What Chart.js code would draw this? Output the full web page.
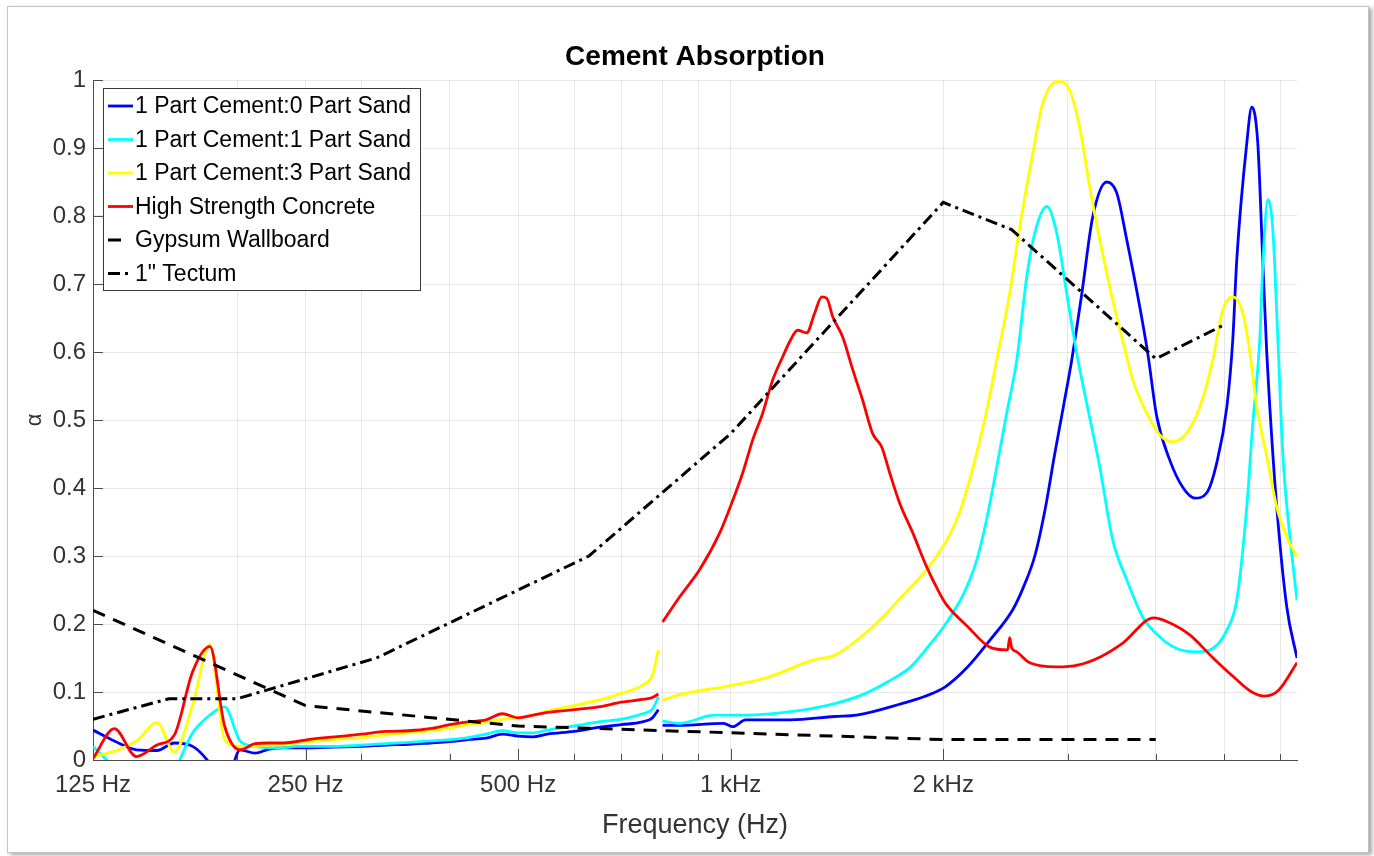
<!DOCTYPE html>
<html>
<head>
<meta charset="utf-8">
<script src="https://cdn.jsdelivr.net/npm/chart.js@4.4.1/dist/chart.umd.min.js"></script>
<style>
  html, body { margin: 0; padding: 0; background: #fff; }
  #fig { position: relative; width: 1374px; height: 856px; overflow: hidden; background: #fff; }
  #frame { position: absolute; left: 7px; top: 6px; width: 1360px; height: 845px;
           border: 1px solid #c4c4c4; box-shadow: 3px 2px 4px rgba(0,0,0,0.35); background: #fff; }
  #c { position: absolute; left: 0; top: 0; }
</style>
</head>
<body>
<div id="fig"><div id="frame"></div><canvas id="c" width="1374" height="856"></canvas></div>
<script>
// ---- Low-frequency measurement range (shared frequency grid, Hz) ----
const lowFreq = [125,134,144,154,163,173,183,192,202,212,222,232,242,252,275,300,325,350,375,400,425,450,475,500,525,550,600,650,700,750,775,790];
const blueLow   = [0.044,0.028,0.015,0.014,0.025,0.020,-0.005,-0.040,0.015,0.010,0.016,0.018,0.018,0.018,0.019,0.020,0.022,0.023,0.025,0.027,0.030,0.032,0.038,0.035,0.034,0.038,0.042,0.048,0.052,0.056,0.062,0.074];
const cyanLow   = [0.020,-0.010,-0.030,-0.040,-0.015,0.040,0.066,0.078,0.028,0.020,0.018,0.018,0.020,0.020,0.020,0.022,0.024,0.026,0.028,0.030,0.033,0.038,0.043,0.040,0.040,0.044,0.050,0.056,0.060,0.068,0.075,0.093];
const yellowLow = [0.005,0.013,0.028,0.055,0.012,0.081,0.170,0.030,0.020,0.020,0.022,0.022,0.025,0.027,0.030,0.033,0.037,0.040,0.043,0.047,0.052,0.055,0.060,0.062,0.066,0.072,0.080,0.088,0.098,0.110,0.125,0.162];
const redLow    = [0.002,0.046,0.005,0.022,0.037,0.130,0.167,0.050,0.015,0.024,0.025,0.025,0.027,0.030,0.034,0.038,0.042,0.043,0.046,0.052,0.056,0.059,0.068,0.062,0.066,0.070,0.074,0.078,0.085,0.089,0.092,0.097];

// ---- High-frequency measurement range ----
const blueHighFreq  = [801,847,977,1007,1050,1216,1404,1508,1747,1877,2016,2167,2328,2509,2600,2696,2790,2877,2960,3041,3143,3257,3409,3522,3639,3797,3897,4013,4187,4368,4543,4724,4880,5043,5142,5209,5382,5471,5579,5670,5745,5802,5935,6132,6340];
const blueHigh      = [0.051,0.051,0.054,0.049,0.059,0.059,0.064,0.066,0.083,0.093,0.108,0.137,0.176,0.221,0.255,0.300,0.370,0.450,0.520,0.588,0.686,0.799,0.850,0.834,0.765,0.666,0.598,0.505,0.441,0.401,0.385,0.393,0.437,0.519,0.618,0.735,0.907,0.960,0.907,0.735,0.598,0.519,0.372,0.225,0.150];

const cyanHighFreq  = [801,847,949,1050,1216,1404,1553,1669,1799,1901,2016,2139,2231,2300,2381,2460,2542,2626,2696,2803,2896,2992,3091,3332,3477,3639,3834,4053,4284,4572,4817,5043,5209,5382,5489,5615,5670,5764,5859,5955,6053,6193,6340];
const cyanHigh      = [0.057,0.054,0.066,0.066,0.071,0.083,0.098,0.115,0.137,0.166,0.200,0.245,0.294,0.350,0.430,0.510,0.588,0.710,0.775,0.814,0.775,0.686,0.598,0.431,0.323,0.265,0.210,0.181,0.164,0.159,0.164,0.191,0.235,0.372,0.495,0.618,0.725,0.824,0.780,0.620,0.450,0.330,0.235];

const yellowHighFreq = [801,847,1007,1132,1307,1404,1508,1626,1747,1877,1958,2040,2111,2170,2216,2300,2381,2484,2567,2678,2767,2906,3021,3122,3225,3332,3477,3639,3711,3884,4053,4228,4425,4618,4817,4977,5142,5313,5435,5561,5745,5935,6132,6340];
const yellowHigh     = [0.088,0.096,0.110,0.122,0.147,0.154,0.176,0.206,0.240,0.275,0.300,0.330,0.365,0.405,0.440,0.510,0.588,0.686,0.784,0.892,0.966,0.998,0.985,0.930,0.843,0.765,0.676,0.593,0.559,0.510,0.478,0.468,0.481,0.519,0.588,0.662,0.681,0.657,0.600,0.519,0.446,0.372,0.328,0.299];

const redHighFreq = [801,847,904,965,1007,1040,1074,1110,1147,1185,1212,1244,1281,1315,1346,1368,1395,1441,1489,1538,1589,1637,1680,1735,1811,1895,1977,2016,2167,2328,2468,2484,2500,2542,2652,2896,3112,3343,3592,3974,4161,4469,4802,5159,5471,5708,5975,6340];
const redHigh     = [0.203,0.240,0.280,0.334,0.382,0.422,0.470,0.510,0.559,0.593,0.615,0.632,0.628,0.657,0.681,0.679,0.652,0.622,0.574,0.529,0.480,0.460,0.422,0.378,0.334,0.284,0.245,0.230,0.196,0.166,0.162,0.180,0.165,0.159,0.143,0.137,0.140,0.152,0.172,0.209,0.203,0.184,0.152,0.122,0.100,0.094,0.103,0.143];

// ---- Published reference materials ----
const gypsumFreq  = [125,250,500,1000,2000,4000];
const gypsumAlpha = [0.22,0.08,0.05,0.04,0.03,0.03];
const tectumFreq  = [125,160,200,315,630,1000,2000,2500,4000,5000];
const tectumAlpha = [0.06,0.09,0.09,0.15,0.30,0.48,0.82,0.78,0.59,0.64];

// ---- Labels and ticks ----
const seriesLabels = ['1 Part Cement:0 Part Sand','1 Part Cement:1 Part Sand','1 Part Cement:3 Part Sand','High Strength Concrete','Gypsum Wallboard','1" Tectum'];
const xMajor = [125,250,500,1000,2000];
const xMajorLabels = ['125 Hz','250 Hz','500 Hz','1 kHz','2 kHz'];
const xMinor = [200,300,400,600,700,800,900,3000,4000,5000,6000];
const yTickValues = [0,0.1,0.2,0.3,0.4,0.5,0.6,0.7,0.8,0.9,1];
const yTickLabels = ['0','0.1','0.2','0.3','0.4','0.5','0.6','0.7','0.8','0.9','1'];
const GAP_FREQ = 796;   // break between the two measurement ranges

const FONT = '"Liberation Sans", Arial, Helvetica, sans-serif';

function pts(fs, vs) { return fs.map((f, i) => ({ x: f, y: vs[i] })); }
function twoRange(lowVals, hiF, hiV) {
  return pts(lowFreq, lowVals).concat([{ x: GAP_FREQ, y: null }], pts(hiF, hiV));
}

const measured = { borderWidth: 2.8, pointRadius: 0, cubicInterpolationMode: 'monotone', spanGaps: false, fill: false };
const datasets = [
  Object.assign({ label: seriesLabels[0], data: twoRange(blueLow, blueHighFreq, blueHigh),       borderColor: '#0000ff', order: 6 }, measured),
  Object.assign({ label: seriesLabels[1], data: twoRange(cyanLow, cyanHighFreq, cyanHigh),       borderColor: '#00ffff', order: 5 }, measured),
  Object.assign({ label: seriesLabels[2], data: twoRange(yellowLow, yellowHighFreq, yellowHigh), borderColor: '#ffff00', order: 4 }, measured),
  Object.assign({ label: seriesLabels[3], data: twoRange(redLow, redHighFreq, redHigh),          borderColor: '#ff0000', order: 3 }, measured),
  { label: seriesLabels[4], data: pts(gypsumFreq, gypsumAlpha), borderColor: '#000', borderWidth: 3,
    borderDash: [13, 9], pointRadius: 0, tension: 0, fill: false, order: 2 },
  { label: seriesLabels[5], data: pts(tectumFreq, tectumAlpha), borderColor: '#000', borderWidth: 3,
    borderDash: [12, 5, 3, 5], pointRadius: 0, tension: 0, fill: false, order: 1 }
];

// Inward tick marks on the left and bottom axes
const innerTicks = {
  id: 'innerTicks',
  beforeDatasetsDraw(chart) {
    const { ctx, chartArea: a, scales: { x, y } } = chart;
    ctx.save();
    ctx.strokeStyle = '#4d4d4d';
    ctx.lineWidth = 1;
    ctx.beginPath();
    xMajor.forEach(v => { const p = Math.round(x.getPixelForValue(v)) + 0.5; ctx.moveTo(p, a.bottom); ctx.lineTo(p, a.bottom - 11); });
    xMinor.forEach(v => { const p = Math.round(x.getPixelForValue(v)) + 0.5; ctx.moveTo(p, a.bottom); ctx.lineTo(p, a.bottom - 6); });
    yTickValues.forEach(v => { const p = Math.round(y.getPixelForValue(v)) + 0.5; ctx.moveTo(a.left, p); ctx.lineTo(a.left + 10, p); });
    ctx.stroke();
    ctx.restore();
  }
};

// Boxed legend inside the axes plus the figure title
const boxLegend = {
  id: 'boxLegend',
  afterDraw(chart) {
    const { ctx, chartArea: a } = chart;
    ctx.save();
    ctx.font = 'bold 28px ' + FONT;
    ctx.fillStyle = '#000';
    ctx.textAlign = 'center';
    ctx.textBaseline = 'middle';
    ctx.fillText('Cement Absorption', (a.left + a.right) / 2, 57);

    const x0 = a.left + 10, y0 = a.top + 8, w = 317, h = 202;
    ctx.fillStyle = '#fff';
    ctx.fillRect(x0, y0, w, h);
    ctx.strokeStyle = '#3a3a3a';
    ctx.lineWidth = 1;
    ctx.strokeRect(x0 + 0.5, y0 + 0.5, w, h);
    ctx.font = '23px ' + FONT;
    ctx.textAlign = 'left';
    chart.data.datasets.forEach((ds, i) => {
      const cy = y0 + 18 + i * 33.5;
      ctx.save();
      ctx.setLineDash(ds.borderDash || []);
      ctx.strokeStyle = ds.borderColor;
      ctx.lineWidth = ds.borderWidth;
      ctx.beginPath();
      ctx.moveTo(x0 + 5, cy);
      ctx.lineTo(x0 + (ds.borderDash ? 25 : 30), cy);
      ctx.stroke();
      ctx.restore();
      ctx.fillStyle = '#000';
      ctx.fillText(ds.label, x0 + 32, cy + 1);
    });
    ctx.restore();
  }
};

new Chart(document.getElementById('c'), {
  type: 'line',
  data: { datasets },
  options: {
    responsive: false,
    animation: false,
    devicePixelRatio: 1,
    layout: { padding: { top: 80, right: 77, bottom: 0, left: 0 } },
    plugins: { legend: { display: false }, title: { display: false }, tooltip: { enabled: false } },
    scales: {
      x: {
        type: 'logarithmic',
        min: 125, max: 6340,
        afterBuildTicks(scale) {
          scale.ticks = xMajor.concat(xMinor).sort((p, q) => p - q).map(v => ({ value: v, major: xMajor.includes(v) }));
        },
        afterFit(scale) { scale.height = 96; },
        ticks: {
          autoSkip: false, maxRotation: 0, minRotation: 0, padding: 11,
          color: '#333', font: { family: FONT, size: 24 },
          callback(v) { const k = xMajor.indexOf(v); return k >= 0 ? xMajorLabels[k] : ''; }
        },
        grid: { color: 'rgba(0,0,0,0.09)', drawTicks: false },
        border: { display: true, color: '#4d4d4d', width: 1 },
        title: { display: true, text: 'Frequency (Hz)', color: '#333',
                 font: { family: FONT, size: 27 }, padding: { top: 0, bottom: 14 } }
      },
      y: {
        min: 0, max: 1,
        afterBuildTicks(scale) { scale.ticks = yTickValues.map(v => ({ value: v })); },
        afterFit(scale) { scale.width = 93; },
        ticks: {
          padding: 7, color: '#333', font: { family: FONT, size: 24 },
          callback(v, i) { return yTickLabels[i]; }
        },
        grid: { color: 'rgba(0,0,0,0.09)', drawTicks: false },
        border: { display: true, color: '#4d4d4d', width: 1 },
        title: { display: true, text: 'α', color: '#333',
                 font: { family: FONT, size: 22 }, padding: { top: 22, bottom: 0 } }
      }
    }
  },
  plugins: [innerTicks, boxLegend]
});
</script>
</body>
</html>
